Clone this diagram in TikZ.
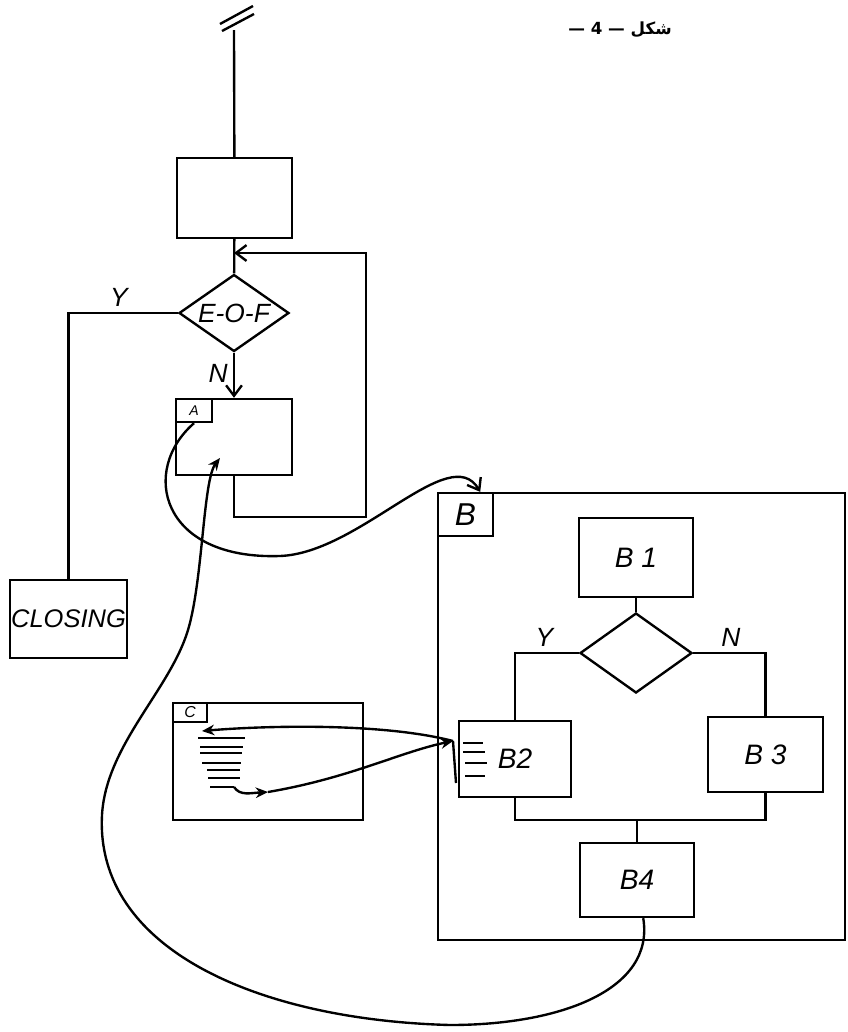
\documentclass[tikz,border=0pt]{standalone}
\usepackage{fontspec}
\setmainfont{Liberation Sans}
\newfontfamily\arabicfont[Script=Arabic]{DejaVu Sans}
\TeXXeTstate=1
\usetikzlibrary{arrows.meta,positioning,shapes.geometric}

\begin{document}
\begin{tikzpicture}[x=0.02cm,y=-0.02cm,line width=1.35pt,
    blk/.style={draw,inner sep=0pt,font=\fontsize{16}{18}\selectfont\itshape},
    tagbox/.style={draw,inner sep=0pt,anchor=north west,
      font=\fontsize{8}{9}\selectfont\itshape},
    test/.style={draw,diamond,inner sep=0pt},
    lbl/.style={font=\fontsize{15}{17}\selectfont\itshape,inner sep=3pt},
    arr/.style={-{Straight Barb[length=6pt,width=9pt]}},
    link/.style={-{Stealth[length=7pt,width=6pt]}}
  ]
  \useasboundingbox (0,0) rectangle (848,1032);

  \node[font=\arabicfont\bfseries\fontsize{9.5}{11}\selectfont] (title) at (620,30)
    {\beginR شكل — 4 —\endR};

  % main loop
  \coordinate (entry) at (234,30);
  \node[blk,minimum width=2.3cm,minimum height=1.6cm] (read) at (234.5,198) {};
  \node[test,minimum width=2.2cm,minimum height=1.54cm,
    label={[lbl]center:E-O-F}] (eof) at (234,313) {};
  \node[blk,minimum width=2.32cm,minimum height=1.52cm] (A) at (234,437) {};
  \node[tagbox,minimum width=0.72cm,minimum height=0.46cm] (Atag) at (A.north west) {A};
  \node[blk,minimum width=2.34cm,minimum height=1.56cm,
    font=\fontsize{14.5}{16}\selectfont\itshape] (closing) at (68.5,619) {CLOSING};
  \coordinate (back) at (366,517);
  \coordinate (rejoin) at (234,253);

  \draw (entry) -- (read);
  \draw ([shift={(-14,-6)}]entry) -- ++(33,-18);
  \draw ([shift={(-12,1)}]entry) -- ++(32,-17);
  \draw (read) -- (eof);
  \draw[arr] (eof) -- node[lbl,left,pos=0.45] (no1) {N} (A);
  \draw (eof) -| node[lbl,above,pos=0.27] (yes1) {Y} (closing);
  \draw[arr] (A) |- (back) |- (rejoin);

  % procedure B
  \node[blk,minimum width=8.14cm,minimum height=8.94cm] (B) at (641.5,716.5) {};
  \node[tagbox,minimum width=1.1cm,minimum height=0.86cm,
    font=\fontsize{18}{20}\selectfont\itshape] (Btag) at (B.north west) {B};
  \node[blk,minimum width=2.28cm,minimum height=1.58cm] (B1) at (636,557.5) {B 1};
  \node[test,minimum width=2.24cm,minimum height=1.6cm] (Btest) at (636,653) {};
  \node[blk,minimum width=2.24cm,minimum height=1.52cm] (B2) at (515,759) {B2};
  \node[blk,minimum width=2.3cm,minimum height=1.5cm] (B3) at (765.5,754.5) {B 3};
  \node[blk,minimum width=2.28cm,minimum height=1.48cm] (B4) at (637,880) {B4};
  \coordinate (join) at (637,820);

  \draw (B1) -- (Btest);
  \draw (Btest) -| node[lbl,above,pos=0.27] (yes2) {Y} (B2);
  \draw (Btest) -| node[lbl,above,pos=0.26] (no2) {N} (B3);
  \draw (B2) |- (join) -| (B3);
  \draw (join) -- (B4);
  \foreach \y/\a/\b in {743/463/483,752/463/485,763/465/487,776/465/485}
    \draw[line width=1.1pt] (\a,\y) -- (\b,\y);

  % procedure C
  \node[blk,minimum width=3.8cm,minimum height=2.34cm] (C) at (268,761.5) {};
  \node[tagbox,minimum width=0.68cm,minimum height=0.38cm,
    font=\fontsize{9}{10}\selectfont\itshape] (Ctag) at (C.north west) {C};
  \foreach \y/\a/\b in {738/198/245,747/200/243,753/200/242,763/202/241,770/207/240,778/208/240}
    \draw[line width=1.1pt] (\a,\y) -- (\b,\y);
  \draw[line width=1.1pt] (210,787) -- (234,787) coordinate (clast);

  % calls
  \coordinate (b2in) at (453,741);
  \coordinate (cin) at (202,731);
  \coordinate (cout) at (268,792);
  \coordinate (ain) at (220,458);
  \draw[arr] (Atag.south) .. controls (140,470) and (160,560) .. (280,556)
    .. controls (360,553) and (450,440) .. ([xshift=-0.28cm]Btag.north east);
  \draw[link] (b2in) .. controls (380,722) and (260,726) .. (cin);
  \draw[link] (clast) .. controls (240,796) and (250,793) .. (cout);
  \draw[link] (cout) .. controls (350,778) and (400,752) .. (b2in);
  \draw (b2in) -- ++(3,42);
  \draw[link] (B4) .. controls (655,990) and (560,1025) .. (450,1025)
    .. controls (260,1020) and (95,950) .. (102,815)
    .. controls (106,745) and (170,690) .. (188,630)
    .. controls (203,580) and (203,480) .. (ain);
\end{tikzpicture}
\end{document}
